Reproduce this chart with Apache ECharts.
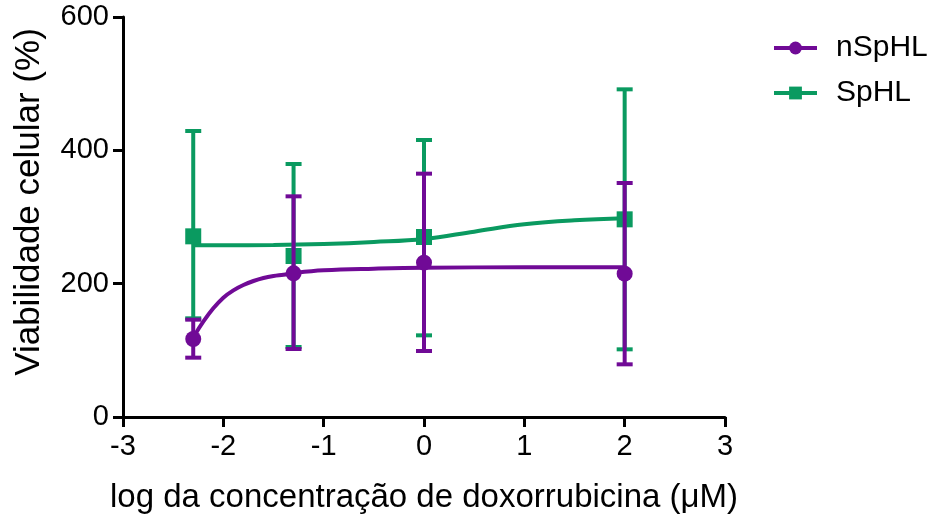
<!DOCTYPE html>
<html>
<head>
<meta charset="utf-8">
<script src="https://cdn.jsdelivr.net/npm/echarts@6/dist/echarts.min.js"></script>
<style>
  html, body { margin: 0; padding: 0; background: #fff; }
  #chart { width: 935px; height: 519px; }
</style>
</head>
<body>
<div id="chart"></div>
<script>
// Doxorubicin concentrations (log µM) at which viability was measured
const logConc = [-2.3, -1.3, 0, 2];

// nSpHL: mean viability and error-bar limits (%)
const nsphlMean  = [117, 215.5, 231.5, 215];
const nsphlUpper = [146, 331, 365, 351];
const nsphlLower = [89, 102, 99, 79];

// SpHL: mean viability and error-bar limits (%)
const sphlMean  = [271, 241.5, 270, 296.5];
const sphlUpper = [429, 379.5, 415.5, 491.5];
const sphlLower = [148, 105, 122.5, 101.5];

// Fitted curves (x in log µM, y in %)
const nsphlFitX = [-2.3, -2.28, -2.2, -2.1, -2.0, -1.9, -1.8, -1.7, -1.6, -1.5, -1.4, -1.3, -1.0, -0.5, 0, 1, 2];
const nsphlFitY = [117, 124, 143, 163, 179, 190, 198, 204, 208.5, 211.5, 213.5, 216, 220, 222.5, 224, 224.5, 224.5];
const sphlFitX = [-2.3, -1.5, -1.0, -0.5, 0, 0.5, 1, 1.5, 2];
const sphlFitY = [257.5, 258, 259.5, 262.5, 267, 278, 289, 295, 298];

// Axis ticks
const xTicks = [-3, -2, -1, 0, 1, 2, 3];
const yTicks = [0, 200, 400, 600];

const PURPLE = '#700A96';
const GREEN = '#0A9A60';
const FONT = 'Liberation Sans, Arial, sans-serif';

function pairs(xs, ys) { return xs.map((x, i) => [x, ys[i]]); }

function fitSeries(name, color, xs, ys, symbol, z) {
  return {
    name: name,
    type: 'line',
    z: z,
    data: pairs(xs, ys),
    smooth: 0.4,
    showSymbol: false,
    symbol: symbol,
    symbolSize: 16,
    lineStyle: { color: color, width: 4 },
    itemStyle: { color: color },
    silent: true
  };
}

function pointSeries(name, color, ys, symbol, z) {
  return {
    name: name,
    type: 'scatter',
    z: z,
    data: pairs(logConc, ys),
    symbol: symbol,
    symbolSize: 16,
    itemStyle: { color: color, opacity: 1 },
    silent: true
  };
}

function errorBarSeries(name, color, lower, upper, z) {
  return {
    name: name,
    type: 'custom',
    z: z,
    silent: true,
    itemStyle: { color: color },
    data: logConc.map((x, i) => [x, lower[i], upper[i]]),
    renderItem: function (params, api) {
      const lo = api.coord([api.value(0), api.value(1)]);
      const hi = api.coord([api.value(0), api.value(2)]);
      const half = 8;
      const style = { stroke: color, lineWidth: 4, fill: null };
      return {
        type: 'group',
        children: [
          { type: 'line', shape: { x1: lo[0], y1: lo[1], x2: hi[0], y2: hi[1] }, style: style },
          { type: 'line', shape: { x1: hi[0] - half, y1: hi[1], x2: hi[0] + half, y2: hi[1] }, style: style },
          { type: 'line', shape: { x1: lo[0] - half, y1: lo[1], x2: lo[0] + half, y2: lo[1] }, style: style }
        ]
      };
    },
    encode: { x: 0, y: [1, 2] }
  };
}

const chart = echarts.init(document.getElementById('chart'), null, { renderer: 'canvas' });

const option = {
  animation: false,
  backgroundColor: '#ffffff',
  textStyle: { fontFamily: FONT, color: '#000' },
  grid: { left: 123, right: 210, top: 17, bottom: 101, containLabel: false },
  legend: {
    data: ['nSpHL', 'SpHL'],
    orient: 'vertical',
    left: 767,
    top: 28,
    itemWidth: 43,
    itemHeight: 16,
    itemGap: 15,
    lineStyle: { width: 4 },
    textStyle: { fontSize: 30, color: '#000', fontFamily: FONT, padding: [0, 0, 0, 14] }
  },
  xAxis: {
    type: 'value',
    min: xTicks[0],
    max: xTicks[xTicks.length - 1],
    interval: 1,
    name: 'log da concentração de doxorrubicina (μM)',
    nameLocation: 'middle',
    nameGap: 64,
    nameTextStyle: { fontSize: 33, color: '#000' },
    axisLine: { onZero: false, lineStyle: { color: '#000', width: 3 } },
    axisTick: { length: 10, lineStyle: { color: '#000', width: 3 } },
    axisLabel: { fontSize: 29, color: '#000', margin: 15 },
    splitLine: { show: false }
  },
  yAxis: {
    type: 'value',
    min: yTicks[0],
    max: yTicks[yTicks.length - 1],
    interval: 200,
    name: 'Viabilidade celular (%)',
    nameLocation: 'middle',
    nameGap: 76,
    nameTextStyle: { fontSize: 35, color: '#000', padding: [0, 0, 0, 30] },
    axisLine: { show: true, onZero: false, lineStyle: { color: '#000', width: 3 } },
    axisTick: { show: true, length: 10, lineStyle: { color: '#000', width: 3 } },
    axisLabel: { fontSize: 29, color: '#000', margin: 14 },
    splitLine: { show: false }
  },
  series: [
    // line series first so the legend shows a line with its marker
    fitSeries('nSpHL', PURPLE, nsphlFitX, nsphlFitY, 'circle', 6),
    fitSeries('SpHL', GREEN, sphlFitX, sphlFitY, 'rect', 3),
    errorBarSeries('SpHL', GREEN, sphlLower, sphlUpper, 2),
    pointSeries('SpHL', GREEN, sphlMean, 'rect', 4),
    errorBarSeries('nSpHL', PURPLE, nsphlLower, nsphlUpper, 5),
    pointSeries('nSpHL', PURPLE, nsphlMean, 'circle', 7)
  ]
};

chart.setOption(option);
</script>
</body>
</html>
